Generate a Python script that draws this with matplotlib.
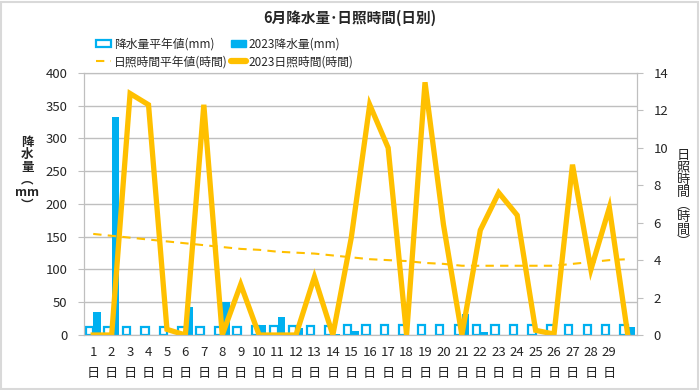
import numpy as np
import matplotlib
matplotlib.use("Agg")
import matplotlib.pyplot as plt
from matplotlib.patches import Rectangle
from matplotlib.lines import Line2D

plt.rcParams['font.family'] = ['Noto Sans CJK JP', 'DejaVu Sans']

# データ (6月 日別)
days = list(range(1, 31))
day_labels = [f"{d}\n日" for d in range(1, 30)] + [""]
rain_normal = [12, 12, 12, 12, 12, 12, 12, 12, 12, 13, 13, 13, 14, 14, 15,
               15, 15, 16, 16, 16, 16, 16, 16, 16, 16, 15, 15, 15, 15, 15]
rain_2023 = [35, 332, 0, 0, 0, 42, 0, 50, 0, 16, 27, 11, 0, 2, 6,
             0, 0, 0, 0, 0, 32, 4, 0, 0, 0, 0, 0, 0, 0, 12]
sun_normal = [5.4, 5.3, 5.2, 5.1, 5.0, 4.9, 4.8, 4.7, 4.6, 4.55, 4.45, 4.4, 4.35, 4.25, 4.15,
              4.05, 4.0, 3.95, 3.85, 3.8, 3.7, 3.7, 3.7, 3.7, 3.7, 3.7, 3.8, 3.9, 4.0, 4.05]
sun_2023 = [0, 0, 12.9, 12.3, 0.3, 0, 12.3, 0, 2.7, 0, 0, 0, 3.1, 0, 5.2,
            12.3, 10.0, 0, 13.5, 5.9, 0, 5.6, 7.6, 6.4, 0.25, 0.05, 9.1, 3.5, 6.8, 0]

blue = '#00B0F0'
gold = '#FFC000'
grid_c = '#BFBFBF'
txt_c = '#262626'

fig = plt.figure(figsize=(7, 3.9), dpi=100)
ax = fig.add_axes([0.12, 0.141, 0.79, 0.672])
ax2 = ax.twinx()

x = np.arange(len(days))
w = 0.4
ax.bar(x - w / 2, rain_normal, w, facecolor='white', edgecolor=blue, linewidth=1.6, zorder=2)
ax.bar(x + w / 2, rain_2023, w, color=blue, zorder=2)

ax2.plot(x, sun_normal, color=gold, lw=1.5, ls=(0, (4, 3)))
ax2.plot(x, sun_2023, color=gold, lw=3.8, solid_joinstyle='miter')

ax.set_xlim(-0.5, len(days) - 0.5)
ax.set_ylim(0, 400)
ax.set_yticks(range(0, 401, 50))
ax2.set_ylim(0, 14)
ax2.set_yticks(range(0, 15, 2))
ax.set_xticks(x)
ax.set_xticklabels(day_labels, linespacing=1.75)

ax.grid(axis='y', color=grid_c, lw=1)
ax.set_axisbelow(True)
for a in (ax, ax2):
    for s in a.spines.values():
        s.set_color(grid_c)
    a.tick_params(colors=grid_c, labelcolor=txt_c, labelsize=9.5)
ax.tick_params(axis='x', length=0, pad=8)
ax.tick_params(axis='y', length=4, pad=8)
ax2.tick_params(axis='y', length=4, pad=8)

fig.text(0.5, 0.955, '6月降水量･日照時間(日別)', ha='center', va='center',
         fontsize=10.5, fontweight='bold', color=txt_c)

fig.text(0.039, 0.555, '降\n水\n量\n︵\nmm\n︶', ha='center', va='center',
         fontsize=9, fontweight='bold', linespacing=0.95, color=txt_c)
fig.text(0.976, 0.49, '日\n照\n時\n間\n︵\n時\n間\n︶', ha='center', va='center',
         fontsize=9.5, linespacing=0.95, color=txt_c)

h_rn = Rectangle((0, 0), 1, 1, facecolor='white', edgecolor=blue, linewidth=1.6)
h_r23 = Rectangle((0, 0), 1, 1, facecolor=blue, edgecolor=blue)
h_sn = Line2D([], [], color=gold, lw=1.5, ls=(0, (4, 3)))
h_s23 = Line2D([], [], color=gold, lw=4.5, solid_capstyle='round')
fig.legend([h_rn, h_sn, h_r23, h_s23],
           ['降水量平年値(mm)', '日照時間平年値(時間)', '2023降水量(mm)', '2023日照時間(時間)'],
           loc='upper left', bbox_to_anchor=(0.122, 0.93), ncol=2, frameon=False,
           fontsize=8.5, handlelength=1.3, handleheight=0.55, handletextpad=0.2,
           columnspacing=0.3, labelspacing=0.35, labelcolor=txt_c)

fig.add_artist(Rectangle((0.002, 0.003), 0.995, 0.993, transform=fig.transFigure,
                         fill=False, edgecolor='#D9D9D9', lw=1.5))

fig.savefig('out.png', dpi=100)
